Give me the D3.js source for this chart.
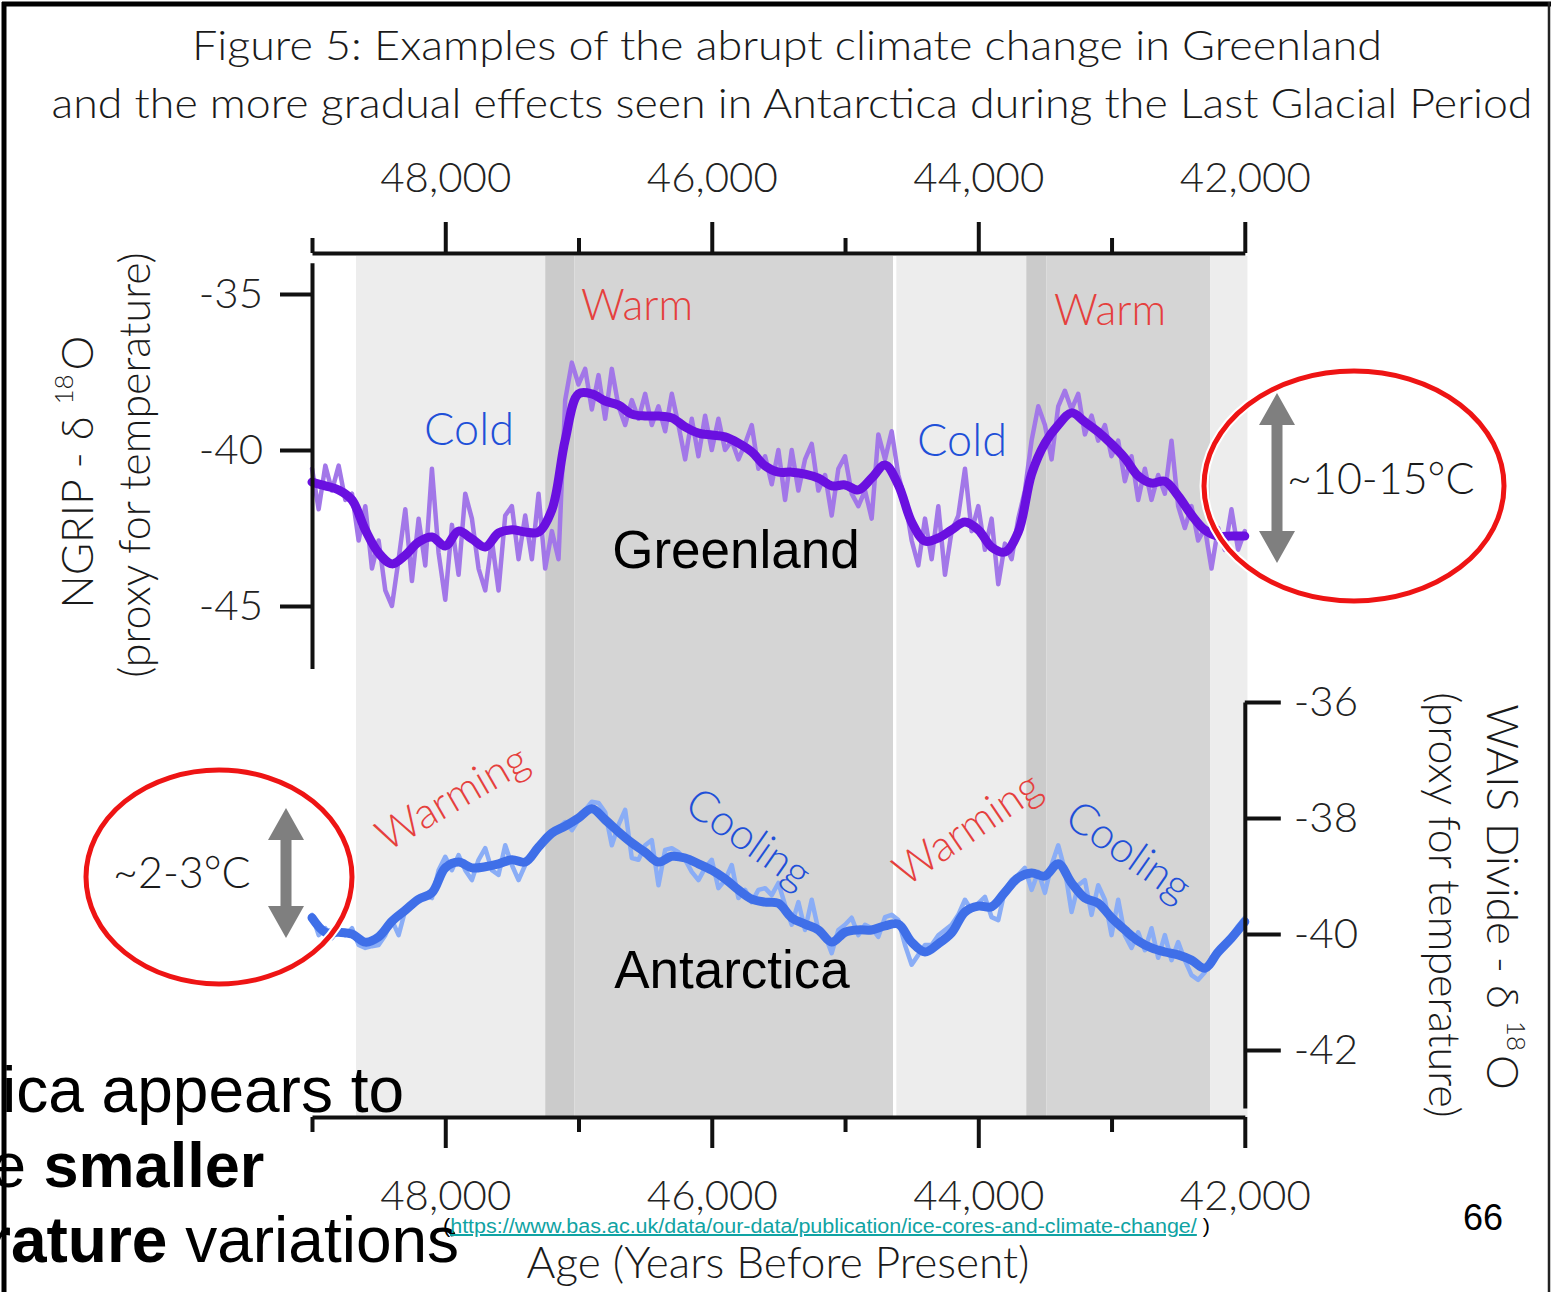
<!doctype html>
<meta charset=utf8>
<title>Figure 5: abrupt climate change</title>
<style>
  body {
    margin: 0;
    background: white;
  }

  svg {
    display: block;
    font-family: Lato, 'Open Sans', sans-serif;
  }

  .axis path,
  .axis line {
    stroke: #111;
    stroke-width: 4;
  }

  .axis text {
    font-family: Lato, sans-serif;
    font-weight: 300;
    font-size: 42px;
    fill: #222;
  }

  .fig {
    font-family: Lato, sans-serif;
    font-weight: 300;
    fill: #1a1a1a;
  }

  .slide {
    font-family: 'Liberation Sans', Arial, sans-serif;
    fill: #000;
  }
</style>
<svg width=1553 height=1292 viewBox="0 0 1553 1292"></svg>
<script src=https://cdnjs.cloudflare.com/ajax/libs/d3/7.8.5/d3.min.js></script>
<script>
  // NGRIP d18O, raw record every 50 years from 49,000 to 42,000 yr BP
  var ngripRaw = [
    -40.6, -41.9, -40.5, -41.3, -40.5, -41.6, -41.4, -42.9, -41.8, -43.8,
    -42.9, -44.5, -45.0, -43.5, -41.9, -44.2, -42.2, -43.7, -40.6, -43.3,
    -44.8, -42.4, -44.0, -41.4, -42.2, -43.8, -44.5, -42.9, -44.5, -42.1,
    -41.8, -43.5, -42.1, -43.5, -41.4, -43.8, -42.6, -43.5, -38.4, -37.2,
    -37.9, -37.4, -38.7, -37.6, -39.0, -37.4, -38.6, -39.2, -38.4, -39.0,
    -38.2, -39.2, -38.6, -39.4, -38.2, -39.2, -40.3, -39.0, -40.2, -38.9,
    -40.0, -39.0, -40.0, -39.7, -40.3, -39.8, -39.2, -40.6, -40.2, -41.1,
    -40.0, -41.6, -40.0, -41.3, -40.3, -39.8, -41.3, -40.8, -42.1, -40.6,
    -40.2, -41.4, -41.8, -41.3, -42.2, -39.5, -40.3, -39.4, -40.8, -41.6,
    -42.9, -43.7, -42.2, -43.5, -41.8, -44.0, -42.6, -42.1, -40.6, -42.6,
    -41.8, -43.2, -42.2, -44.3, -43.0, -43.5, -42.2, -41.3, -39.7, -38.6,
    -39.2, -40.3, -38.6, -38.1, -38.7, -38.2, -39.5, -38.9, -39.7, -39.2,
    -40.2, -39.7, -41.0, -40.2, -41.6, -40.6, -41.6, -40.8, -41.4, -39.7,
    -41.8, -42.5, -41.8, -42.9, -42.5, -43.8, -42.5, -43.2, -41.9, -43.2,
    -42.6
  ];

  // NGRIP smoothed, every 100 years
  var ngripSmooth = [
    -41.03, -41.15, -41.28, -41.60, -42.56, -43.30, -43.65, -43.37, -42.95, -42.79,
    -43.08, -42.60, -42.85, -43.11, -42.66, -42.56, -42.63, -42.63, -41.92, -39.68,
    -38.20, -38.20, -38.43, -38.56, -38.85, -38.91, -38.91, -38.97, -39.26, -39.46,
    -39.52, -39.58, -39.78, -40.06, -40.51, -40.71, -40.71, -40.77, -40.90, -41.15,
    -41.12, -41.28, -40.90, -40.48, -41.12, -42.31, -42.92, -42.82, -42.56, -42.31,
    -42.56, -43.11, -43.27, -42.63, -40.77, -39.78, -39.20, -38.81, -39.10, -39.42,
    -39.81, -40.26, -40.83, -41.06, -41.00, -41.47, -42.08, -42.56, -42.76, -42.76,
    -42.76
  ];

  // WAIS Divide d18O, raw record every 50 years
  var waisRaw = [
    -39.67, -40.02, -39.90, -40.07, -39.93, -40.02, -39.90, -40.19, -40.24, -40.21,
    -40.19, -40.02, -39.76, -40.02, -39.59, -39.50, -39.38, -39.33, -39.38, -38.90,
    -38.67, -38.90, -38.64, -38.90, -39.07, -38.72, -38.52, -38.90, -38.98, -38.47,
    -38.81, -39.07, -38.81, -38.64, -38.55, -38.34, -38.24, -38.17, -38.07, -38.21,
    -38.03, -37.86, -37.72, -37.74, -37.90, -38.47, -38.12, -37.86, -38.69, -38.72,
    -38.47, -38.38, -39.16, -38.55, -38.52, -38.59, -38.72, -38.93, -39.07, -38.86,
    -38.72, -39.21, -39.07, -38.81, -39.38, -39.24, -39.45, -39.24, -39.21, -39.33,
    -39.12, -39.50, -39.84, -39.45, -39.93, -39.41, -39.93, -40.02, -40.33, -39.93,
    -39.84, -39.72, -40.02, -39.84, -39.90, -40.05, -39.71, -39.67, -39.76, -40.19,
    -40.53, -40.36, -40.19, -40.19, -40.02, -39.93, -39.84, -39.67, -39.41, -39.59,
    -39.47, -39.36, -39.71, -39.76, -39.24, -39.07, -38.98, -38.86, -39.24, -38.93,
    -39.29, -38.81, -38.47, -38.90, -39.62, -39.16, -39.07, -39.67, -39.16, -39.41,
    -40.02, -39.41, -40.02, -40.24, -39.97, -40.28, -39.90, -40.41, -40.02, -40.45,
    -40.14, -40.45, -40.71, -40.79, -40.66, -40.41, -40.28, -40.19, -40.02, -39.86,
    -39.72
  ];

  // WAIS Divide smoothed, every 100 years
  var waisSmooth = [
    -39.72, -39.97, -39.97, -40.00, -40.14, -40.05, -39.78, -39.59, -39.40, -39.29,
    -38.86, -38.76, -38.86, -38.84, -38.79, -38.72, -38.76, -38.50, -38.26, -38.14,
    -38.00, -37.84, -38.03, -38.24, -38.43, -38.59, -38.76, -38.66, -38.69, -38.79,
    -38.90, -39.05, -39.24, -39.40, -39.45, -39.47, -39.72, -39.83, -39.93, -40.14,
    -39.97, -39.93, -39.93, -39.86, -39.83, -40.14, -40.31, -40.17, -39.98, -39.62,
    -39.52, -39.53, -39.28, -39.03, -38.95, -39.00, -38.79, -39.12, -39.38, -39.47,
    -39.72, -39.93, -40.12, -40.24, -40.31, -40.36, -40.45, -40.59, -40.31, -40.07,
    -39.79
  ];

  var rawAges = d3.range(49000, 41999, -50);
  var smoothAges = d3.range(49000, 41999, -100);

  var ageTicks = [49000, 48000, 47000, 46000, 45000, 44000, 43000, 42000];
  var ageLabels = ['', '48,000', '', '46,000', '', '44,000', '', '42,000'];
  var ngripTicks = [-35, -40, -45];
  var ngripLabels = ['-35', '-40', '-45'];
  var waisTicks = [-36, -38, -40, -42];
  var waisLabels = ['-36', '-38', '-40', '-42'];

  // shaded climate phases, in years BP
  var bandFrom = [48670, 47250, 47030, 44615, 43640, 43490, 42260];
  var bandTo = [47250, 47030, 44640, 43640, 43490, 42260, 41980];
  var bandKind = ['cold', 'shift', 'warm', 'cold', 'shift', 'warm', 'cold'];

  var svg = d3.select('svg');

  var x = d3.scaleLinear().domain([49000, 42000]).range([312, 1244.8]);
  var yG = d3.scaleLinear().domain([-34, -47]).range([262.8, 668.4]);
  var yA = d3.scaleLinear().domain([-36, -43]).range([702, 1108]);
  var shade = d3.scaleOrdinal(['cold', 'shift', 'warm'], ['#ededed', '#cbcbcb', '#d5d5d5']);

  svg.append('g')
    .selectAll('rect')
    .data(bandFrom)
    .join('rect')
    .attr('x', function(d) { return x(d); })
    .attr('width', function(d, i) { return x(bandTo[i]) - x(d); })
    .attr('y', 256)
    .attr('height', 861)
    .attr('fill', function(d, i) { return shade(bandKind[i]); });

  function series(values, ages, y, curve) {
    return d3.line()
      .curve(curve)
      .x(function(d, i) { return x(ages[i]); })
      .y(function(d) { return y(d); })(values);
  }

  var lines = svg.append('g').attr('fill', 'none').attr('stroke-linejoin', 'round').attr('stroke-linecap', 'round');

  lines.append('path')
    .attr('d', series(ngripRaw, rawAges, yG, d3.curveLinear))
    .attr('stroke', '#a277e8')
    .attr('stroke-width', 4.5);

  lines.append('path')
    .attr('d', series(ngripSmooth, smoothAges, yG, d3.curveCatmullRom))
    .attr('stroke', '#6a10e0')
    .attr('stroke-width', 9);

  lines.append('path')
    .attr('d', series(waisRaw, rawAges, yA, d3.curveLinear))
    .attr('stroke', '#8aadf6')
    .attr('stroke-width', 4.5);

  lines.append('path')
    .attr('d', series(waisSmooth, smoothAges, yA, d3.curveCatmullRom))
    .attr('stroke', '#3f6fe8')
    .attr('stroke-width', 9);

  // axes
  function ageLabel(d) {
    return ageLabels[ageTicks.indexOf(d)];
  }

  function styleAxis(g) {
    g.attr('font-family', null).attr('font-size', null).attr('class', 'axis');
  }

  var topAxis = svg.append('g')
    .attr('transform', 'translate(0,253)')
    .call(d3.axisTop(x).tickValues(ageTicks).tickFormat(ageLabel).tickSize(31).tickPadding(30).tickSizeOuter(0))
    .call(styleAxis);
  topAxis.selectAll('.tick line').filter(function(d) { return d % 2000 !== 0; }).attr('y2', -15);

  var bottomAxis = svg.append('g')
    .attr('transform', 'translate(0,1117)')
    .call(d3.axisBottom(x).tickValues(ageTicks).tickFormat(ageLabel).tickSize(31).tickPadding(32).tickSizeOuter(0))
    .call(styleAxis);
  bottomAxis.selectAll('.tick line').filter(function(d) { return d % 2000 !== 0; }).attr('y2', 15);

  svg.append('g')
    .attr('transform', 'translate(312,0)')
    .call(d3.axisLeft(yG).tickValues(ngripTicks).tickFormat(function(d) { return ngripLabels[ngripTicks.indexOf(d)]; })
      .tickSize(32).tickPadding(17).tickSizeOuter(0))
    .call(styleAxis);

  svg.append('g')
    .attr('transform', 'translate(1244.8,0)')
    .call(d3.axisRight(yA).tickValues(waisTicks).tickFormat(function(d) { return waisLabels[waisTicks.indexOf(d)]; })
      .tickSize(36).tickPadding(13).tickSizeOuter(0))
    .call(styleAxis);

  // titles
  function label(parent, tx, ty, str, size, cls) {
    return parent.append('text')
      .attr('class', cls || 'fig')
      .attr('x', tx)
      .attr('y', ty)
      .attr('font-size', size)
      .text(str);
  }

  label(svg, 787, 60, 'Figure 5: Examples of the abrupt climate change in Greenland', 42)
    .attr('text-anchor', 'middle').attr('textLength', 1190).attr('lengthAdjust', 'spacingAndGlyphs');
  label(svg, 792, 118, 'and the more gradual effects seen in Antarctica during the Last Glacial Period', 42)
    .attr('text-anchor', 'middle').attr('textLength', 1481).attr('lengthAdjust', 'spacingAndGlyphs');
  label(svg, 778, 1278, 'Age (Years Before Present)', 43)
    .attr('text-anchor', 'middle').attr('textLength', 503).attr('lengthAdjust', 'spacingAndGlyphs');

  function isotope(tx, ty, angle, head, supDy) {
    var t = svg.append('text')
      .attr('class', 'fig')
      .attr('font-size', 44)
      .attr('text-anchor', 'middle')
      .attr('transform', 'translate(' + tx + ',' + ty + ') rotate(' + angle + ')');
    t.append('tspan').text(head + ' \u03b4 ');
    t.append('tspan').attr('font-size', 26).attr('dy', supDy).text('18');
    t.append('tspan').attr('dy', -supDy).attr('dx', 4).text('O');
  }

  isotope(93, 472, -90, 'NGRIP -', -20);
  label(svg, 0, 0, '(proxy for temperature)', 43)
    .attr('text-anchor', 'middle')
    .attr('transform', 'translate(150,465) rotate(-90)');

  isotope(1487, 897, 90, 'WAIS Divide -', -20);
  label(svg, 0, 0, '(proxy for temperature)', 43)
    .attr('text-anchor', 'middle')
    .attr('transform', 'translate(1429,905) rotate(90)');

  // phase labels
  var red = '#e5403d';
  var blue = '#1f50d8';
  label(svg, 637, 320, 'Warm', 43).attr('text-anchor', 'middle').style('fill', red);
  label(svg, 1110, 325, 'Warm', 43).attr('text-anchor', 'middle').style('fill', red);
  label(svg, 469, 445, 'Cold', 45).attr('text-anchor', 'middle').style('fill', blue);
  label(svg, 962, 456, 'Cold', 45).attr('text-anchor', 'middle').style('fill', blue);

  function slanted(cx, cy, angle, str, color) {
    label(svg, 0, 0, str, 43)
      .attr('text-anchor', 'middle')
      .attr('dy', '0.35em')
      .attr('transform', 'translate(' + cx + ',' + cy + ') rotate(' + angle + ')')
      .style('fill', color);
  }

  slanted(452, 797, -30, 'Warming', red);
  slanted(749, 838, 35, 'Cooling', blue);
  slanted(967, 828, -34, 'Warming', red);
  slanted(1129, 851, 35, 'Cooling', blue);

  label(svg, 736, 568, 'Greenland', 53, 'slide').attr('text-anchor', 'middle');
  label(svg, 732, 988, 'Antarctica', 53, 'slide').attr('text-anchor', 'middle');

  // range annotations
  function doubleArrow(cx, top, bot) {
    var hh = 32, hw = 18, sw = 5.5;
    svg.append('path')
      .attr('fill', '#7f7f7f')
      .attr('d', 'M' + cx + ',' + top +
        'L' + (cx + hw) + ',' + (top + hh) + 'H' + (cx + sw) + 'V' + (bot - hh) + 'H' + (cx + hw) +
        'L' + cx + ',' + bot +
        'L' + (cx - hw) + ',' + (bot - hh) + 'H' + (cx - sw) + 'V' + (top + hh) + 'H' + (cx - hw) + 'Z');
  }

  doubleArrow(1277, 393, 563);
  doubleArrow(286, 808, 938);
  label(svg, 1287, 494, '~10-15\u00b0C', 43);
  label(svg, 113, 888, '~2-3\u00b0C', 43);

  function ring(cx, cy, rx, ry) {
    svg.append('ellipse').attr('cx', cx).attr('cy', cy).attr('rx', rx).attr('ry', ry)
      .attr('fill', 'none').attr('stroke', 'white').attr('stroke-width', 9);
    svg.append('ellipse').attr('cx', cx).attr('cy', cy).attr('rx', rx).attr('ry', ry)
      .attr('fill', 'none').attr('stroke', '#ee1414').attr('stroke-width', 5);
  }

  ring(1354, 486, 150, 115);
  ring(219, 877, 133, 107);

  // slide overlay
  label(svg, 2, 1112, 'ica appears to', 64, 'slide');
  var s2 = svg.append('text').attr('class', 'slide').attr('x', -9).attr('y', 1187).attr('font-size', 63);
  s2.append('tspan').text('e');
  s2.append('tspan').attr('font-weight', 'bold').text(' smaller');
  var s3 = svg.append('text').attr('class', 'slide').attr('x', -14).attr('y', 1262).attr('font-size', 64);
  s3.append('tspan').attr('font-weight', 'bold').text('rature');
  s3.append('tspan').text(' variations');

  var src = svg.append('text')
    .attr('class', 'slide')
    .attr('x', 443)
    .attr('y', 1233)
    .attr('font-size', 20)
    .attr('textLength', 767)
    .attr('lengthAdjust', 'spacingAndGlyphs');
  src.append('tspan').text('(');
  src.append('tspan').style('fill', '#10a3a3').attr('text-decoration', 'underline')
    .text('https://www.bas.ac.uk/data/our-data/publication/ice-cores-and-climate-change/');
  src.append('tspan').text(' )');

  label(svg, 1463, 1230, '66', 36, 'slide');

  // frame
  var frame = svg.append('g').attr('stroke', '#000');
  frame.append('line').attr('x1', 2).attr('x2', 1551).attr('y1', 4).attr('y2', 4).attr('stroke-width', 5);
  frame.append('line').attr('x1', 4).attr('x2', 4).attr('y1', 2).attr('y2', 1292).attr('stroke-width', 5);
  frame.append('line').attr('x1', 1549).attr('x2', 1549).attr('y1', 2).attr('y2', 1292).attr('stroke-width', 2.5).attr('stroke', '#222');
</script>
